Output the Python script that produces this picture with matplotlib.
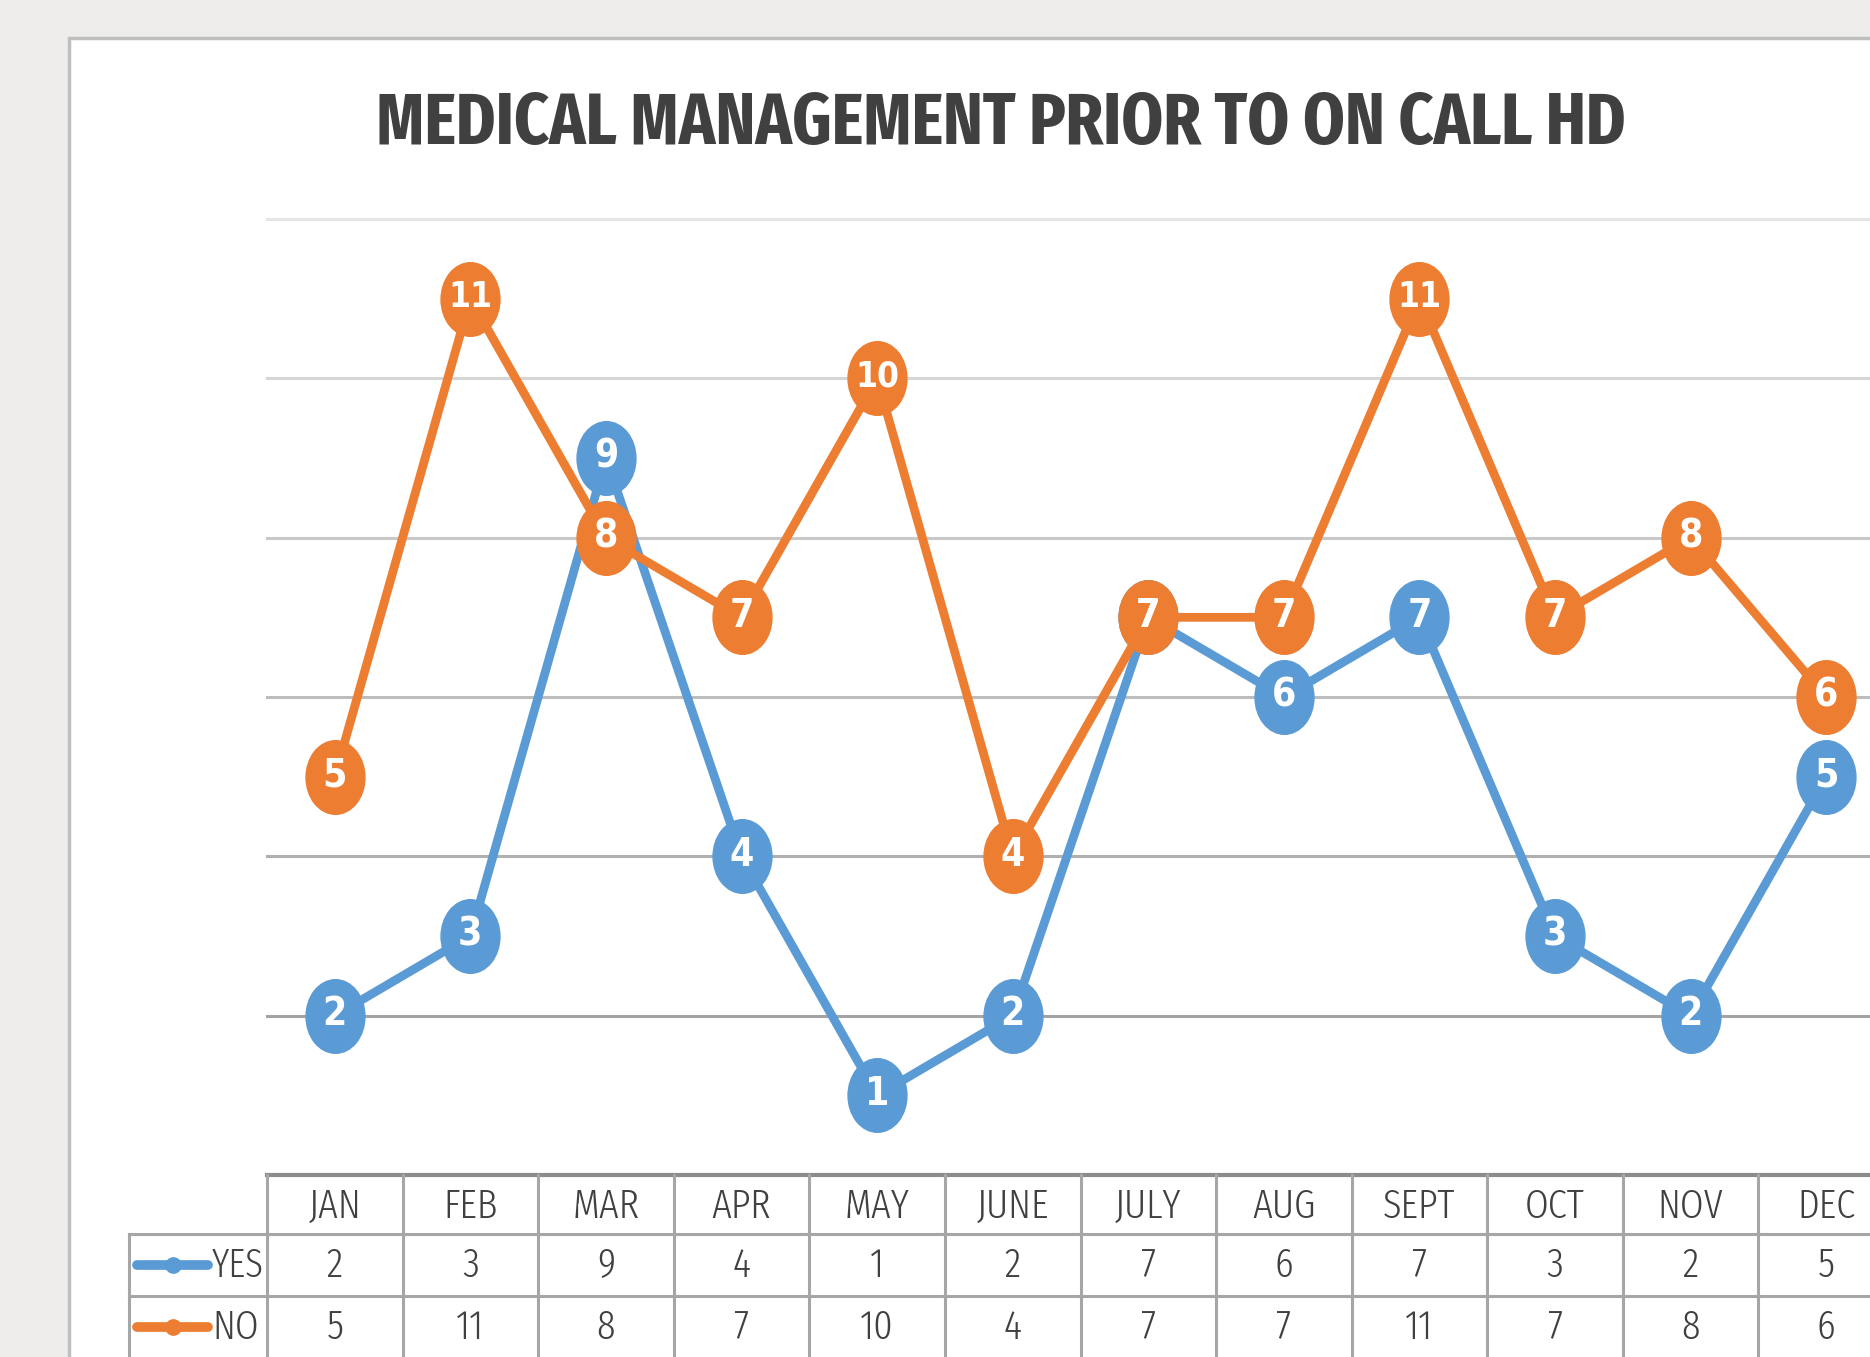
import os
import numpy as np
import matplotlib
matplotlib.use("Agg")
import matplotlib.pyplot as plt
from matplotlib.path import Path
from matplotlib.transforms import Affine2D
from matplotlib.patches import Rectangle
from matplotlib import font_manager

# datos
meses = ["JAN", "FEB", "MAR", "APR", "MAY", "JUNE", "JULY", "AUG", "SEPT", "OCT", "NOV", "DEC"]
yes_vals = [2, 3, 9, 4, 1, 2, 7, 6, 7, 3, 2, 5]
no_vals = [5, 11, 8, 7, 10, 4, 7, 7, 11, 7, 8, 6]
nombres_series = ["YES", "NO"]
titulo = "MEDICAL MANAGEMENT PRIOR TO ON CALL HD"

azul = "#5B9BD5"
naranja = "#ED7D31"
gris_texto = "#404040"
gris_tabla = "#A6A6A6"


# buscar una fuente estrecha (tipo Calibri) entre las instaladas
def ancho_de(f):
    base = (os.path.basename(f.fname) + " " + f.name).lower().replace(" ", "")
    if "extracondensed" in base:
        return "extra"
    if "semicondensed" in base:
        return "semi"
    if "condensed" in base or "narrow" in base or f.stretch in ("condensed", "semi-condensed"):
        return "cond"
    return None


def buscar_fuente(peso_deseado, anchos):
    mejor, mejor_score = None, None
    for f in font_manager.fontManager.ttflist:
        a = ancho_de(f)
        if a is None or f.style != "normal":
            continue
        if "Mono" in f.name or "Serif" in f.name:
            continue
        peso = f.weight if isinstance(f.weight, int) else font_manager.weight_dict.get(f.weight, 400)
        orden = anchos.index(a) if a in anchos else 9
        score = (orden, abs(peso - peso_deseado))
        if mejor_score is None or score < mejor_score:
            mejor, mejor_score = f, score
    if mejor is None:
        return None
    return font_manager.FontProperties(fname=mejor.fname)


fp_tit = buscar_fuente(700, ["extra", "cond", "semi"])
fp_bold = buscar_fuente(700, ["cond", "extra", "semi"])
fp_reg = buscar_fuente(300, ["extra", "cond", "semi"])
if fp_tit is None:
    fp_tit = font_manager.FontProperties(family="Liberation Sans", weight="bold")
if fp_bold is None:
    fp_bold = font_manager.FontProperties(family="Liberation Sans", weight="bold")
if fp_reg is None:
    fp_reg = font_manager.FontProperties(family="Liberation Sans")

W, H = 1870, 1357
fig = plt.figure(figsize=(W / 100, H / 100), dpi=100, facecolor="#EEEDEB")
renderer = fig.canvas.get_renderer()


def ajustar(t, ancho_max, tam_max):
    # reduce el tamano si el texto es mas ancho que en la referencia
    t.set_fontsize(tam_max)
    w = t.get_window_extent(renderer).width
    if w > ancho_max:
        t.set_fontsize(tam_max * ancho_max / w)


# fondo blanco del grafico (recortado a la derecha y abajo)
fig.add_artist(Rectangle((69 / W, -0.05), 1.2, 1 - 38 / H + 0.05, transform=fig.transFigure,
                         facecolor="white", edgecolor="#BFBFBF", lw=2.5, zorder=0))

t_tit = fig.text(1001 / W, 1 - 124 / H, titulo, ha="center", va="center",
                 fontproperties=fp_tit, color=gris_texto)
ajustar(t_tit, 1250, 58)

ax = fig.add_axes([267 / W, 1 - 1175 / H, 1627 / W, 956 / H])
ax.set_xlim(-0.5, 11.5)
ax.set_ylim(0, 12)
ax.patch.set_visible(False)
for s in ax.spines.values():
    s.set_visible(False)
ax.set_xticks([])
ax.set_yticks([])

# lineas de cuadricula (mas oscuras abajo)
colores_grid = ["#A3A3A3", "#B0B0B0", "#BDBDBD", "#C9C9C9", "#D6D6D6", "#E6E6E6"]
for y, c in zip(range(2, 13, 2), colores_grid):
    ax.axhline(y, color=c, lw=2.2, zorder=1, clip_on=False)

# marcador eliptico
elipse = Affine2D().scale(0.8, 1.0).transform_path(Path.unit_circle())

x = np.arange(len(meses))
for vals, color, z in [(yes_vals, azul, 3), (no_vals, naranja, 4)]:
    ax.plot(x, vals, color=color, lw=6.3, marker=elipse, ms=53, mfc=color, mec=color,
            zorder=z, clip_on=False)
for vals in [yes_vals, no_vals]:
    for i, v in enumerate(vals):
        t = ax.text(i, v + 0.02, str(v), ha="center", va="center", color="white",
                    fontproperties=fp_bold, zorder=6)
        ajustar(t, 44, 28)

# tabla de datos
u = 956 / 12  # px por unidad y
y_head = -(1234 - 1175) / u
y_r1 = -(1296 - 1175) / u
x_leg = (129 - 267) / 135.6 - 0.5
y_bot = -2.6

ax.plot([-0.5, 11.5], [0, 0], color="#8C8C8C", lw=3, clip_on=False, zorder=2)
for yy in [y_head, y_r1]:
    ax.plot([x_leg, 11.5], [yy, yy], color=gris_tabla, lw=2.2, clip_on=False, zorder=2)
for k in range(13):
    ax.plot([k - 0.5, k - 0.5], [0, y_bot], color=gris_tabla, lw=2.2, clip_on=False, zorder=2)
ax.plot([x_leg, x_leg], [y_head, y_bot], color=gris_tabla, lw=2.2, clip_on=False, zorder=2)

fila_c = [y_head / 2 - 0.02, (y_head + y_r1) / 2, y_r1 + y_head / 2 - 0.02]
for i, m in enumerate(meses):
    t = ax.text(i, fila_c[0], m, ha="center", va="center", color=gris_texto,
                fontproperties=fp_reg, clip_on=False)
    ajustar(t, 118, 30)
for fila, vals in zip(fila_c[1:], [yes_vals, no_vals]):
    for i, v in enumerate(vals):
        t = ax.text(i, fila, str(v), ha="center", va="center", color=gris_texto,
                    fontproperties=fp_reg, clip_on=False)
        ajustar(t, 118, 30)

x0 = (137 - 267) / 135.6 - 0.5
x1 = (208 - 267) / 135.6 - 0.5
for fila, nombre, color in zip(fila_c[1:], nombres_series, [azul, naranja]):
    ax.plot([x0, x1], [fila, fila], color=color, lw=7, solid_capstyle="round",
            clip_on=False, zorder=3)
    ax.plot([(x0 + x1) / 2], [fila], "o", color=color, ms=11, clip_on=False, zorder=3)
    t = ax.text(x1 + 0.03, fila, nombre, ha="left", va="center", color=gris_texto,
                fontproperties=fp_reg, clip_on=False)
    ajustar(t, 52, 30)

fig.savefig("out.png", dpi=100, facecolor=fig.get_facecolor())
